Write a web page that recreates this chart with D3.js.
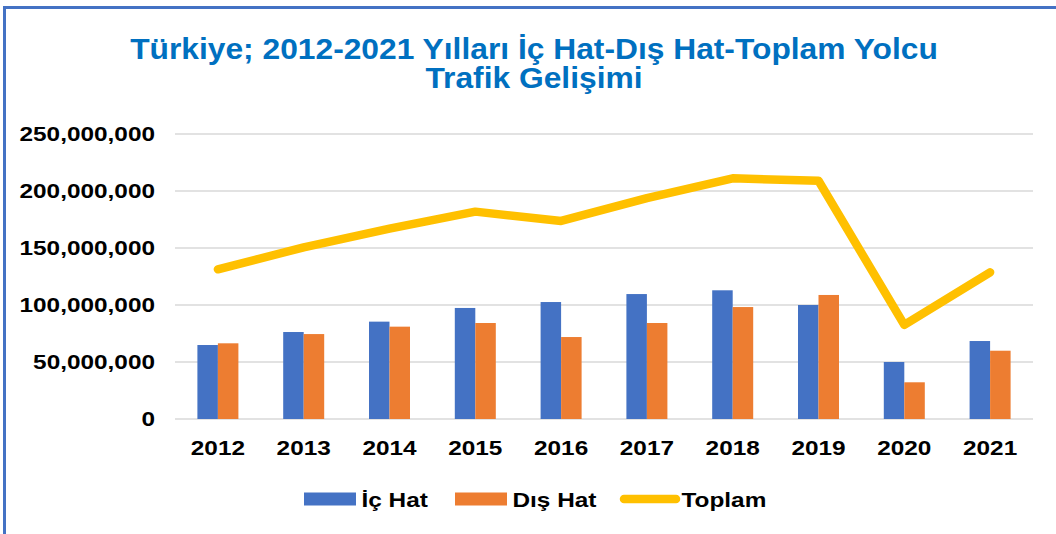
<!DOCTYPE html>
<html>
<head>
<meta charset="utf-8">
<script src="https://cdn.jsdelivr.net/npm/d3@7"></script>
<style>
  body { margin: 0; background: #fff; }
  text { font-family: Arial, "Liberation Sans", sans-serif; font-weight: bold; }
</style>
</head>
<body>
<div id="chart"></div>
<script>
var years = ['2012', '2013', '2014', '2015', '2016', '2017', '2018', '2019', '2020', '2021'];
var ic_hat  = [64.9, 76.3, 85.4, 97.4, 102.6, 109.6, 112.9, 100.0, 50.0, 68.4].map((v) => v * 1e6);
var dis_hat = [66.4, 74.5, 81.0, 84.2, 71.9, 84.2, 98.2, 108.8, 32.2, 59.9].map((v) => v * 1e6);
var toplam  = [131.3, 150.6, 167.0, 181.9, 173.7, 193.7, 211.1, 209.0, 82.5, 128.7].map((v) => v * 1e6);
var y_ticks = [0, 50e6, 100e6, 150e6, 200e6, 250e6];
var series_names = ['İç Hat', 'Dış Hat', 'Toplam'];
var title_lines = ['Türkiye; 2012-2021 Yılları İç Hat-Dış Hat-Toplam Yolcu', 'Trafik Gelişimi'];

var colors = ['#4472C4', '#ED7D31', '#FFC000'];

var W = 1056, H = 534;
var m = { left: 175, right: 1033, top: 134, bottom: 419 };
var stretch_k = 1.16;

// the source picture is a bit wider than tall, stretch text the same way
function stretch(sel, k) {
  sel.each(function() {
    var len = this.getComputedTextLength();
    d3.select(this)
      .attr('textLength', len * k)
      .attr('lengthAdjust', 'spacingAndGlyphs');
  });
}

var svg = d3.select('#chart').append('svg')
  .attr('width', W)
  .attr('height', H);

svg.append('rect')
  .attr('x', 4.5)
  .attr('y', 7.5)
  .attr('width', W + 50)
  .attr('height', H + 50)
  .attr('fill', '#fff')
  .attr('stroke', '#4472C4')
  .attr('stroke-width', 3);

var title = svg.append('g').attr('class', 'title');
title.selectAll('text')
  .data(title_lines).enter()
  .append('text')
  .attr('x', 534)
  .attr('y', (d, i) => 58.5 + i * 29)
  .attr('text-anchor', 'middle')
  .attr('font-size', 29)
  .attr('fill', '#0070C0')
  .text((d) => d)
  .call(stretch, 1.095);

var x = d3.scaleBand()
  .domain(years)
  .range([m.left, m.right]);

var bar_w = 20.5;

var y = d3.scaleLinear()
  .domain([0, 250e6])
  .range([m.bottom, m.top]);

var gph = svg.append('g').attr('class', 'plot');

// grid
gph.selectAll('line.grid')
  .data(y_ticks).enter()
  .append('line')
  .attr('class', 'grid')
  .attr('x1', m.left)
  .attr('x2', m.right)
  .attr('y1', (d) => y(d))
  .attr('y2', (d) => y(d))
  .attr('stroke', '#D9D9D9')
  .attr('stroke-width', 1.5);

var y_axis = d3.axisLeft(y)
  .tickValues(y_ticks)
  .tickSize(0)
  .tickPadding(20)
  .tickFormat(d3.format(','));

gph.append('g')
  .attr('class', 'y-axis')
  .attr('transform', `translate(${m.left},0)`)
  .call(y_axis)
  .call((g) => g.select('.domain').remove())
  .selectAll('text')
  .attr('font-size', 21)
  .attr('fill', '#000')
  .attr('font-family', null)
  .call(stretch, stretch_k);

var x_axis = d3.axisBottom(x)
  .tickSize(0)
  .tickPadding(21);

gph.append('g')
  .attr('class', 'x-axis')
  .attr('transform', `translate(0,${m.bottom})`)
  .call(x_axis)
  .call((g) => g.select('.domain').remove())
  .selectAll('text')
  .attr('font-size', 21)
  .attr('fill', '#000')
  .attr('font-family', null)
  .call(stretch, stretch_k);

gph.selectAll('.tick text').attr('font-weight', 'bold');

// bars
var bar_series = [ic_hat, dis_hat];

bar_series.forEach((vals, si) => {
  gph.selectAll(`rect.bar-${si}`)
    .data(years).enter()
    .append('rect')
    .attr('class', `bar bar-${si}`)
    .attr('x', (d) => x(d) + x.bandwidth() / 2 - bar_w + si * bar_w)
    .attr('y', (d, i) => y(vals[i]))
    .attr('width', bar_w)
    .attr('height', (d, i) => y(0) - y(vals[i]))
    .style('fill', colors[si]);
});

// total line
var line = d3.line()
  .x((d, i) => x(years[i]) + x.bandwidth() / 2)
  .y((d) => y(d));

gph.append('path')
  .datum(toplam)
  .attr('d', line)
  .attr('fill', 'none')
  .attr('stroke', colors[2])
  .attr('stroke-width', 8.5)
  .attr('stroke-linejoin', 'round')
  .attr('stroke-linecap', 'round');

// legend
var legend_x = [304, 455, 620];
var legend = svg.append('g').attr('class', 'legend');

var items = legend.selectAll('g.item')
  .data(series_names).enter()
  .append('g')
  .attr('class', 'item')
  .attr('transform', (d, i) => `translate(${legend_x[i]},499)`);

items.filter((d, i) => i < 2)
  .append('rect')
  .attr('x', 0)
  .attr('y', -6.5)
  .attr('width', 52)
  .attr('height', 13)
  .style('fill', (d, i) => colors[i]);

items.filter((d, i) => i === 2)
  .append('line')
  .attr('x1', 4)
  .attr('x2', 56)
  .attr('stroke', colors[2])
  .attr('stroke-width', 8.5)
  .attr('stroke-linecap', 'round');

items.append('text')
  .attr('x', (d, i) => i < 2 ? 57.5 : 61.5)
  .attr('y', 7.7)
  .attr('font-size', 21)
  .attr('fill', '#000')
  .text((d) => d)
  .call(stretch, stretch_k);
</script>
</body>
</html>
